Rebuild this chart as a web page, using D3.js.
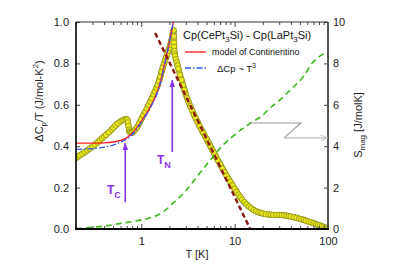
<!DOCTYPE html>
<html><head><meta charset="utf-8">
<script src="https://cdn.jsdelivr.net/npm/d3@7"></script>
<style>body{margin:0;background:#fff}svg text{font-family:"Liberation Sans",Arial,sans-serif}</style>
</head><body><svg id="c" width="409" height="273"></svg>
<script>
// ---- data ----
const dataT=[0.2,0.21,0.22,0.235,0.25,0.265,0.28,0.3,0.32,0.34,0.36,0.38,0.4,0.42,0.45,0.48,0.5,0.53,0.56,0.6,0.63,0.66,0.69,0.71,0.72,0.73,0.74,0.75,0.76,0.78,0.8,0.83,0.86,0.9,0.95,1.0,1.05,1.1,1.15,1.2,1.25,1.3,1.35,1.4,1.45,1.5,1.55,1.6,1.65,1.7,1.75,1.8,1.85,1.9,1.95,2.0,2.05,2.1,2.15,2.18,2.2,2.22,2.23,2.24,2.25,2.26,2.28,2.3,2.35,2.4,2.45,2.5,2.6,2.7,2.8,2.9,3.0,3.1,3.2,3.35,3.5,3.65,3.8,4.0,4.2,4.4,4.6,4.8,5.0,5.25,5.5,5.75,6.0,6.3,6.6,7.0,7.4,7.8,8.2,8.6,9.0,9.5,10,10.5,11,11.5,12,12.7,13.4,14.2,15,16,17,18,19,20,21.5,23,24.5,26,28,30,32,34,36,38,40,43,46,49,52,55,58,62,66,70,74,78,82,86,90,94,97,100];
const dataCpT=[0.343,0.35,0.356,0.364,0.372,0.38,0.388,0.398,0.408,0.418,0.428,0.438,0.447,0.455,0.467,0.479,0.488,0.5,0.51,0.52,0.525,0.529,0.531,0.528,0.515,0.498,0.48,0.47,0.466,0.464,0.465,0.472,0.48,0.49,0.51,0.53,0.55,0.565,0.58,0.6,0.615,0.63,0.65,0.665,0.68,0.695,0.715,0.735,0.76,0.78,0.8,0.815,0.83,0.845,0.86,0.875,0.89,0.91,0.93,0.945,0.955,0.96,0.93,0.9,0.88,0.86,0.845,0.835,0.82,0.805,0.79,0.775,0.745,0.72,0.695,0.672,0.65,0.632,0.616,0.594,0.574,0.554,0.538,0.518,0.498,0.481,0.465,0.45,0.436,0.418,0.4,0.384,0.368,0.35,0.333,0.312,0.292,0.274,0.257,0.242,0.228,0.211,0.195,0.18,0.166,0.154,0.142,0.13,0.119,0.109,0.1,0.092,0.086,0.081,0.078,0.075,0.072,0.07,0.069,0.068,0.068,0.068,0.067,0.066,0.064,0.062,0.06,0.057,0.054,0.05,0.047,0.044,0.04,0.036,0.032,0.028,0.024,0.02,0.017,0.013,0.01,0.006,0.004,0.002];
const modelT=[0.2,0.3,0.4,0.5,0.6,0.7,0.76,0.9,1.0,1.16,1.3,1.48,1.6,1.72,1.85,2.0,2.1,2.2,2.3];
const modelV=[0.415,0.415,0.416,0.42,0.428,0.44,0.454,0.49,0.52,0.565,0.605,0.66,0.71,0.77,0.83,0.9,0.95,1.0,1.05];
const fitT=[0.2,0.3,0.4,0.5,0.6,0.7,0.76,0.9,1.0,1.16,1.3,1.48,1.6,1.72,1.85,2.0,2.1,2.2,2.3];
const fitV=[0.385,0.388,0.396,0.405,0.42,0.435,0.447,0.485,0.515,0.56,0.6,0.655,0.705,0.765,0.83,0.9,0.95,1.0,1.05];
const lineT=[1.41,14.7];
const lineV=[0.947,0.0];
const smagT=[0.2,0.3,0.4,0.6,0.8,1.0,1.2,1.5,1.8,2.2,3.0,3.6,4.5,5.9,7.5,10,14.6,20,24,30,39,54,69,85,100];
const smagV=[0.02,0.08,0.14,0.27,0.36,0.44,0.52,0.68,0.9,1.26,1.85,2.3,2.85,3.5,4.05,4.55,5.1,5.5,5.85,6.2,6.7,7.34,8.05,8.4,8.55];
const xMajor=[1,10,100];
const xMinor=[0.2,0.3,0.4,0.5,0.6,0.7,0.8,0.9,2,3,4,5,6,7,8,9,20,30,40,50,60,70,80,90];
const yTicks=[0,0.2,0.4,0.6,0.8,1.0];
const y2Ticks=[0,2,4,6,8,10];

// ---- scales ----
const L=76,R=328,T=22,B=229;
const x=d3.scaleLog().domain([0.2,100]).range([L,R]);
const y=d3.scaleLinear().domain([0,1]).range([B,T]);
const y2=d3.scaleLinear().domain([0,10]).range([B,T]);
const svg=d3.select("#c");
const defs=svg.append("defs");
defs.append("clipPath").attr("id","clip").append("rect").attr("x",L).attr("y",T).attr("width",R-L).attr("height",B-T);
defs.append("marker").attr("id","ap").attr("viewBox","0 0 10 10").attr("refX",10).attr("refY",5)
 .attr("markerWidth",7).attr("markerHeight",7).attr("orient","auto").attr("markerUnits","userSpaceOnUse")
 .append("path").attr("d","M0,1L10,5L0,9Z").attr("fill","#8833ee");
defs.append("marker").attr("id","ag").attr("viewBox","0 0 10 10").attr("refX",10).attr("refY",5)
 .attr("markerWidth",9).attr("markerHeight",7).attr("orient","auto").attr("markerUnits","userSpaceOnUse")
 .append("path").attr("d","M0,1L10,5L0,9").attr("fill","none").attr("stroke","#bbb").attr("stroke-width",1.3);

const g=svg.append("g").attr("clip-path","url(#clip)");
const pts=(a,b,ys)=>a.map((t,i)=>[x(t),ys(b[i])]);
const ln=d3.line();

// data: band underlay + circles
const dpath=ln(pts(dataT,dataCpT,y));
g.append("path").attr("d",dpath).attr("fill","none").attr("stroke","#8a8a1c").attr("stroke-width",6).attr("stroke-linejoin","round");
g.append("path").attr("d",dpath).attr("fill","none").attr("stroke","#e6e628").attr("stroke-width",4.4).attr("stroke-linejoin","round");
g.selectAll("circle").data(dataT.map((t,i)=>[t,dataCpT[i]])).enter().append("circle")
 .attr("cx",d=>x(d[0])).attr("cy",d=>y(d[1])).attr("r",2.8)
 .attr("fill","#eaea1e").attr("stroke","#86861a").attr("stroke-width",0.7);

// S_mag (right axis)
g.append("path").attr("d",d3.line().curve(d3.curveMonotoneX)(pts(smagT,smagV,y2))).attr("fill","none")
 .attr("stroke","#3cb81e").attr("stroke-width",1.6).attr("stroke-dasharray","6,4");
// model of Continentino
g.append("path").attr("d",d3.line().curve(d3.curveMonotoneX)(pts(modelT,modelV,y))).attr("fill","none")
 .attr("stroke","#ff2222").attr("stroke-width",1.4);
// T^3 fit
g.append("path").attr("d",d3.line().curve(d3.curveMonotoneX)(pts(fitT,fitV,y))).attr("fill","none")
 .attr("stroke","#3355ff").attr("stroke-width",1.3).attr("stroke-dasharray","6,2,1.5,2");
// -log T line
g.append("path").attr("d",ln(pts(lineT,lineV,y))).attr("fill","none")
 .attr("stroke","#8b1a12").attr("stroke-width",2.4).attr("stroke-dasharray","5,3");

// axes
function ax(gen,tr){return svg.append("g").attr("transform",tr).call(gen).call(s=>s.select(".domain").remove());}
const fontSz=11;
ax(d3.axisBottom(x).tickValues(xMinor).tickSize(-3).tickFormat(""),`translate(0,${B})`);
ax(d3.axisBottom(x).tickValues(xMajor).tickSize(-5).tickPadding(8).tickFormat(d3.format("d")),`translate(0,${B})`);
ax(d3.axisTop(x).tickValues(xMinor).tickSize(-3).tickFormat(""),`translate(0,${T})`);
ax(d3.axisTop(x).tickValues(xMajor).tickSize(-5).tickFormat(""),`translate(0,${T})`);
ax(d3.axisLeft(y).tickValues(yTicks).tickSize(-4).tickPadding(7).tickFormat(d3.format(".1f")),`translate(${L},0)`);
ax(d3.axisRight(y2).tickValues(y2Ticks).tickSize(-4).tickPadding(5).tickFormat(d3.format("d")),`translate(${R},0)`);
svg.selectAll(".tick text").attr("font-size",fontSz).attr("fill","#222").attr("font-family","Liberation Sans, Arial, sans-serif");
svg.selectAll(".tick line").attr("stroke","#444");

// frame
svg.append("line").attr("x1",L).attr("x2",R).attr("y1",T).attr("y2",T).attr("stroke","#333").attr("stroke-width",1.2);
svg.append("line").attr("x1",R).attr("x2",R).attr("y1",T).attr("y2",B).attr("stroke","#555").attr("stroke-width",2);
svg.append("line").attr("x1",L).attr("x2",L).attr("y1",T).attr("y2",B+1).attr("stroke","#000").attr("stroke-width",1.6);
svg.append("line").attr("x1",L-1).attr("x2",R+1).attr("y1",B).attr("y2",B).attr("stroke","#000").attr("stroke-width",2);

// axis titles
svg.append("text").attr("x",197).attr("y",258).attr("text-anchor","middle").attr("font-size",11).attr("fill","#222").text("T [K]");
const lt=svg.append("text").attr("transform","translate(43,101) rotate(-90)").attr("text-anchor","middle").attr("font-size",11).attr("fill","#222");
lt.append("tspan").text("ΔC");
lt.append("tspan").attr("font-size",8).attr("dy",3).text("p");
lt.append("tspan").attr("dy",-3).text("/T (J/mol-K");
lt.append("tspan").attr("font-size",8).attr("dy",-5).text("2");
lt.append("tspan").attr("dy",5).text(")");
const rt=svg.append("text").attr("transform","translate(362,125) rotate(-90)").attr("text-anchor","middle").attr("font-size",11).attr("fill","#222");
rt.append("tspan").text("S");
rt.append("tspan").attr("font-size",8).attr("dy",3).text("mag");
rt.append("tspan").attr("dy",-3).text(" [J/molK]");

// legend
const lg=svg.append("text").attr("x",183).attr("y",39).attr("font-size",11).attr("fill","#111");
lg.append("tspan").text("Cp(CePt");
lg.append("tspan").attr("font-size",8).attr("dy",3).text("3");
lg.append("tspan").attr("dy",-3).text("Si) - Cp(LaPt");
lg.append("tspan").attr("font-size",8).attr("dy",3).text("3");
lg.append("tspan").attr("dy",-3).text("Si)");
svg.append("line").attr("x1",185).attr("x2",206).attr("y1",52).attr("y2",52).attr("stroke","#ff2222").attr("stroke-width",1.4);
svg.append("text").attr("x",212).attr("y",55).attr("font-size",9).attr("fill","#111").text("model of Continentino");
svg.append("line").attr("x1",185).attr("x2",208).attr("y1",68).attr("y2",68).attr("stroke","#3355ff").attr("stroke-width",1.3).attr("stroke-dasharray","6,2,1.5,2");
const lb=svg.append("text").attr("x",217).attr("y",72).attr("font-size",9.5).attr("fill","#111");
lb.append("tspan").text("ΔCp ~ T");
lb.append("tspan").attr("font-size",7).attr("dy",-4).text("3");

// annotations
const arrowTc=[[0.674,0.13],[0.674,0.415]], arrowTN=[[2.15,0.372],[2.15,0.72]];
[arrowTc,arrowTN].forEach(a=>svg.append("line").attr("x1",x(a[0][0])).attr("y1",y(a[0][1])).attr("x2",x(a[1][0])).attr("y2",y(a[1][1]))
 .attr("stroke","#8833ee").attr("stroke-width",1.6).attr("marker-end","url(#ap)"));
const tc=svg.append("text").attr("x",107).attr("y",194).attr("font-size",12).attr("font-weight","bold").attr("fill","#8833ee");
tc.append("tspan").text("T");tc.append("tspan").attr("font-size",9).attr("dy",4).text("C");
const tn=svg.append("text").attr("x",157).attr("y",164).attr("font-size",12).attr("font-weight","bold").attr("fill","#8833ee");
tn.append("tspan").text("T");tn.append("tspan").attr("font-size",9).attr("dy",4).text("N");

const zig=[[14.6,5.12],[51.4,5.12],[33.8,4.4]], arr=[[33.8,4.4],[99,4.4]];
svg.append("path").attr("d",ln(zig.map(d=>[x(d[0]),y2(d[1])]))).attr("fill","none").attr("stroke","#999").attr("stroke-width",1.1);
svg.append("path").attr("d",ln(arr.map(d=>[x(d[0]),y2(d[1])]))).attr("fill","none").attr("stroke","#bbb").attr("stroke-width",1.3).attr("marker-end","url(#ag)");
</script></body></html>
